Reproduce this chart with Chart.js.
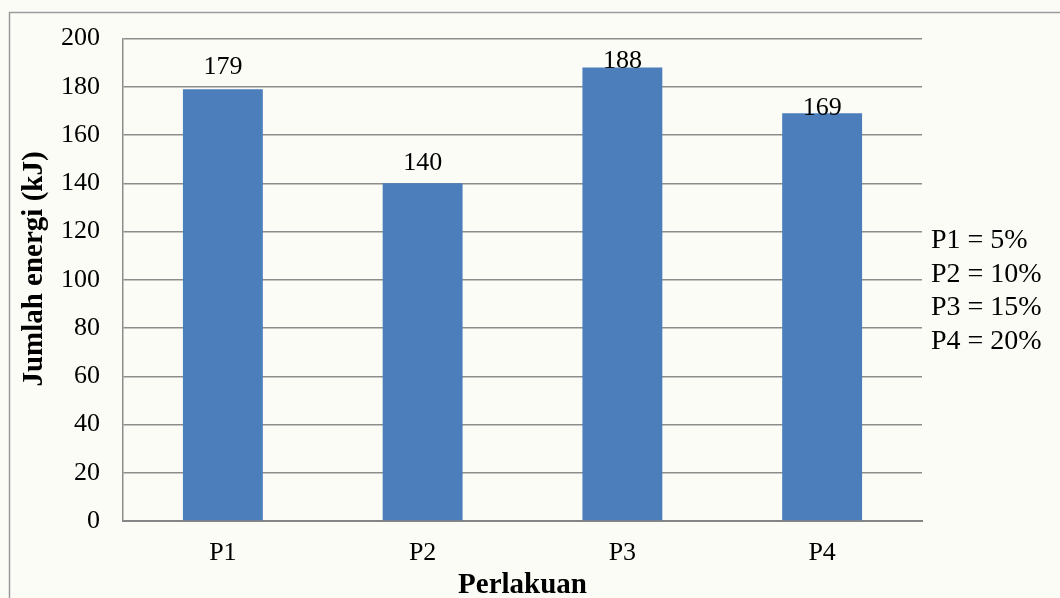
<!DOCTYPE html>
<html>
<head>
<meta charset="utf-8">
<script src="https://cdn.jsdelivr.net/npm/chart.js@4/dist/chart.umd.min.js"></script>
<style>
  html, body { margin: 0; padding: 0; background: #fcfcf7; }
  canvas { display: block; }
</style>
</head>
<body>
<canvas id="chart" width="1060" height="598"></canvas>
<script>
// Treatments and measured energy totals (kJ)
const categories = ['P1', 'P2', 'P3', 'P4'];
const energyKJ = [179, 140, 188, 169];

// Value axis range
const yMin = 0;
const yMax = 200;
const yStep = 20;

// Axis titles and treatment key
const yTitle = 'Jumlah energi (kJ)';
const xTitle = 'Perlakuan';
const treatmentKey = ['P1 = 5%', 'P2 = 10%', 'P3 = 15%', 'P4 = 20%'];

const SERIF = "'Liberation Serif', 'Times New Roman', serif";

// Page background and the thin frame around the figure
const framePlugin = {
  id: 'frame',
  beforeDraw(chart) {
    const ctx = chart.ctx;
    ctx.save();
    ctx.fillStyle = '#fcfcf7';
    ctx.fillRect(0, 0, chart.width, chart.height);
    ctx.strokeStyle = '#9a9a9a';
    ctx.lineWidth = 1.5;
    ctx.beginPath();
    ctx.moveTo(9.5, chart.height + 5);
    ctx.lineTo(9.5, 12.5);
    ctx.lineTo(chart.width + 5, 12.5);
    ctx.stroke();
    ctx.restore();
  }
};

// Value labels above each bar
const valueLabelPlugin = {
  id: 'valueLabels',
  afterDatasetsDraw(chart, args, opts) {
    const ctx = chart.ctx;
    const meta = chart.getDatasetMeta(0);
    const values = chart.data.datasets[0].data;
    ctx.save();
    ctx.font = '26px ' + SERIF;
    ctx.fillStyle = '#000';
    ctx.textAlign = 'center';
    ctx.textBaseline = 'middle';
    meta.data.forEach((bar, i) => {
      ctx.fillText(String(values[i]), bar.x, bar.y - opts.lift[i]);
    });
    ctx.restore();
  }
};

// Axis titles and the treatment key to the right of the plot
const annotationPlugin = {
  id: 'annotations',
  afterDraw(chart) {
    const ctx = chart.ctx;
    const area = chart.chartArea;
    ctx.save();
    ctx.fillStyle = '#000';

    ctx.font = 'bold 29px ' + SERIF;
    ctx.textAlign = 'center';
    ctx.textBaseline = 'alphabetic';
    ctx.fillText(xTitle, (area.left + area.right) / 2, 593);

    ctx.save();
    ctx.translate(42, 269);
    ctx.rotate(-Math.PI / 2);
    ctx.fillText(yTitle, 0, 0);
    ctx.restore();

    ctx.font = '28px ' + SERIF;
    ctx.textAlign = 'left';
    treatmentKey.forEach((line, i) => {
      ctx.fillText(line, 931, 248 + i * 33.5);
    });
    ctx.restore();
  }
};

new Chart(document.getElementById('chart'), {
  type: 'bar',
  data: {
    labels: categories,
    datasets: [{
      data: energyKJ,
      backgroundColor: '#4b7ebb',
      borderWidth: 0,
      categoryPercentage: 0.4,
      barPercentage: 1.0
    }]
  },
  options: {
    responsive: false,
    animation: false,
    devicePixelRatio: 1,
    layout: { padding: { left: 0, top: 38, right: 138, bottom: 0 } },
    plugins: {
      legend: { display: false },
      tooltip: { enabled: false },
      valueLabels: { lift: [22, 20, 6, 5.5] }
    },
    scales: {
      x: {
        grid: { display: false, drawTicks: false },
        border: { display: true, color: '#858585', width: 2 },
        ticks: {
          color: '#000',
          font: { family: SERIF, size: 26 },
          padding: 17
        },
        afterFit(scale) { scale.height = 77; }
      },
      y: {
        min: yMin,
        max: yMax,
        grid: { color: '#8c8c8c', lineWidth: 1.5, drawTicks: false },
        border: { display: true, color: '#8c8c8c', width: 1.5 },
        ticks: {
          stepSize: yStep,
          color: '#000',
          font: { family: SERIF, size: 26 },
          padding: 23
        },
        afterFit(scale) { scale.width = 123; }
      }
    }
  },
  plugins: [framePlugin, valueLabelPlugin, annotationPlugin]
});
</script>
</body>
</html>
